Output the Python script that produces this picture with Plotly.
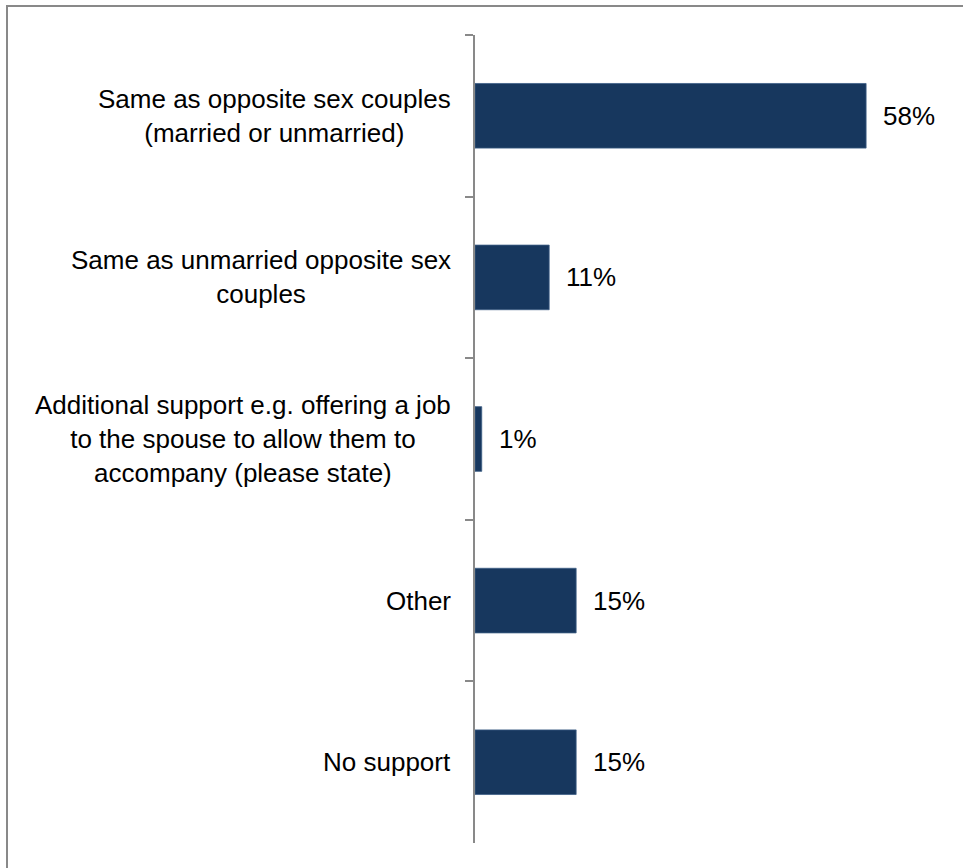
import plotly.graph_objects as go

# Survey responses: support offered to same-sex partners
categories = [
    "Same as opposite sex couples<br>(married or unmarried)",
    "Same as unmarried opposite sex<br>couples",
    "Additional support e.g. offering a job<br>to the spouse to allow them to<br>accompany (please state)",
    "Other",
    "No support",
]
values = [58, 11, 1, 15, 15]
value_labels = [f"{v}%" for v in values]

W, H = 963, 868
ML, MR, MT, MB = 475, 18, 35, 25
X_MAX = 69.7
plot_w = W - ML - MR
plot_h = H - MT - MB

BAR_COLOR = "#17375E"
GRAY = "#898989"
FONT = "Liberation Sans, Arial, sans-serif"
FONT_SIZE = 26

fig = go.Figure(
    go.Bar(
        x=values,
        y=categories,
        orientation="h",
        marker=dict(color=BAR_COLOR, line=dict(color="#3F5F86", width=0.8)),
        hoverinfo="skip",
    )
)

annotations = []
# Category labels, centred line by line, to the left of the axis
for cat in categories:
    annotations.append(dict(
        x=0, xref="paper", y=cat, yref="y",
        text=cat, showarrow=False,
        xanchor="right", yanchor="middle", align="center",
        xshift=-22,
        font=dict(family=FONT, size=FONT_SIZE, color="#000000"),
    ))
# Value labels just past the end of each bar
for cat, v, lab in zip(categories, values, value_labels):
    annotations.append(dict(
        x=v, xref="x", y=cat, yref="y",
        text=lab, showarrow=False,
        xanchor="left", yanchor="middle",
        xshift=15,
        font=dict(family=FONT, size=FONT_SIZE, color="#000000"),
    ))

# Outer frame around the chart (extends past the right and bottom edges)
fx0 = (7 - ML) / plot_w
fx1 = (W + 10 - ML) / plot_w
fy1 = (H - MB - 6) / plot_h
fy0 = (H - MB - (H + 10)) / plot_h

fig.update_layout(
    width=W, height=H,
    margin=dict(l=ML, r=MR, t=MT, b=MB, pad=0),
    paper_bgcolor="white", plot_bgcolor="white",
    showlegend=False,
    bargap=0.6,
    xaxis=dict(range=[0, X_MAX], visible=False, fixedrange=True),
    yaxis=dict(
        categoryorder="array", categoryarray=categories,
        autorange="reversed",
        showticklabels=False,
        showline=True, linecolor=GRAY, linewidth=1.5,
        ticks="outside", tickson="boundaries", ticklen=8,
        tickcolor=GRAY, tickwidth=1.5,
        showgrid=False, zeroline=False, fixedrange=True,
    ),
    annotations=annotations,
    shapes=[dict(
        type="rect", xref="paper", yref="paper",
        x0=fx0, x1=fx1, y0=fy0, y1=fy1,
        line=dict(color=GRAY, width=2), layer="below",
    )],
)

fig.write_html("out.html")
